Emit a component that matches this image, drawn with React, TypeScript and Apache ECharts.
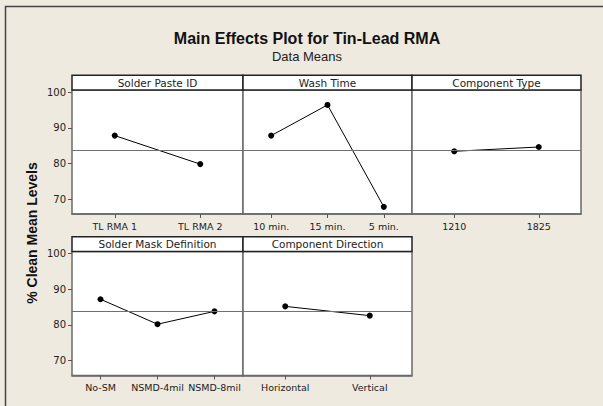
import React, { useEffect, useRef } from "react";
import * as echarts from "echarts";

const panelTitles = ["Solder Paste ID", "Wash Time", "Component Type", "Solder Mask Definition", "Component Direction"];
const solderPasteLevels = ["TL RMA 1", "TL RMA 2"];
const solderPasteMeans = [87.8, 79.8];
const washTimeLevels = ["10 min.", "15 min.", "5 min."];
const washTimeMeans = [87.8, 96.4, 67.8];
const componentTypeLevels = ["1210", "1825"];
const componentTypeMeans = [83.4, 84.6];
const solderMaskLevels = ["No-SM", "NSMD-4mil", "NSMD-8mil"];
const solderMaskMeans = [87.2, 80.2, 83.8];
const directionLevels = ["Horizontal", "Vertical"];
const directionMeans = [85.2, 82.6];
const grandMean = 83.8;
const yTicks = [70, 80, 90, 100];

const chartTitle = "Main Effects Plot for Tin-Lead RMA";
const chartSubtitle = "Data Means";
const yAxisTitle = "% Clean Mean Levels";

const BG = "#EEEAE0";
const FONT = "DejaVu Sans";

export default function App() {
  const ref = useRef<HTMLDivElement>(null);

  useEffect(() => {
    document.body.style.margin = "0";
    const chart = echarts.init(ref.current!, null, { renderer: "svg" });

    const panels = [
      { levels: solderPasteLevels, means: solderPasteMeans },
      { levels: washTimeLevels, means: washTimeMeans },
      { levels: componentTypeLevels, means: componentTypeMeans },
      { levels: solderMaskLevels, means: solderMaskMeans },
      { levels: directionLevels, means: directionMeans },
    ];
    const lefts = [72, 243, 412];
    const widths = [171, 169, 169];
    const tops = [90, 251.5];
    const H = 124;
    const HEAD = 14.7;

    const grids: any[] = [];
    const xAxes: any[] = [];
    const yAxes: any[] = [];
    const series: any[] = [];
    const graphics: any[] = [];

    panels.forEach((p, i) => {
      const col = i % 3;
      const row = Math.floor(i / 3);
      const left = lefts[col];
      const width = widths[col];
      const top = tops[row];
      grids.push({
        left,
        top,
        width,
        height: H,
        show: true,
        backgroundColor: "#FFFFFF",
        borderColor: "#6A6A6A",
        borderWidth: 1.5,
      });
      xAxes.push({
        type: "category",
        gridIndex: i,
        data: p.levels,
        boundaryGap: true,
        axisLine: { show: true, lineStyle: { color: "#6A6A6A", width: 1.5 } },
        axisTick: { show: true, alignWithLabel: true, interval: 0, length: 4, lineStyle: { color: "#555", width: 1 } },
        axisLabel: { color: "#222", fontFamily: FONT, fontSize: 9.5, margin: 7, interval: 0, hideOverlap: false },
        splitLine: { show: false },
      });
      const showY = col === 0;
      yAxes.push({
        type: "value",
        gridIndex: i,
        min: 65.8,
        max: 100.6,
        axisLine: { show: false },
        axisTick: { show: showY, inside: false, length: 4, customValues: yTicks, lineStyle: { color: "#555", width: 1 } },
        axisLabel: { show: showY, customValues: yTicks, color: "#222", fontFamily: FONT, fontSize: 10, margin: 6 },
        splitLine: { show: false },
      });
      series.push({
        type: "line",
        xAxisIndex: i,
        yAxisIndex: i,
        data: p.means,
        symbol: "circle",
        symbolSize: 6,
        itemStyle: { color: "#000" },
        lineStyle: { color: "#000", width: 1 },
        markLine: {
          silent: true,
          symbol: "none",
          label: { show: false },
          lineStyle: { color: "#707070", width: 1.2, type: "solid" },
          data: [{ yAxis: grandMean }],
        },
        z: 3,
      });
      graphics.push({
        type: "rect",
        shape: { x: left, y: top - HEAD, width, height: HEAD },
        style: { fill: "#FFFFFF", stroke: "#222", lineWidth: 1.5 },
        z: 10,
      });
      graphics.push({
        type: "text",
        x: left + width / 2,
        y: top - HEAD / 2,
        style: {
          text: panelTitles[i],
          fill: "#222",
          font: `10.5px "${FONT}"`,
          align: "center",
          verticalAlign: "middle",
        },
        z: 11,
      });
    });

    graphics.push({
      type: "polyline",
      shape: { points: [[5.5, 420], [5.5, 6.5], [620, 6.5]] },
      style: { stroke: "#444", lineWidth: 1.5, fill: null },
      z: 1,
    });
    graphics.push({
      type: "text",
      x: 307,
      y: 38,
      style: {
        text: chartTitle,
        fill: "#111",
        font: `bold 16px "Liberation Sans"`,
        align: "center",
        verticalAlign: "middle",
      },
    });
    graphics.push({
      type: "text",
      x: 307,
      y: 56,
      style: {
        text: chartSubtitle,
        fill: "#222",
        font: `13px "Liberation Sans"`,
        align: "center",
        verticalAlign: "middle",
      },
    });
    graphics.push({
      type: "text",
      x: 32,
      y: 233,
      rotation: Math.PI / 2,
      style: {
        text: yAxisTitle,
        fill: "#111",
        font: `bold 14px "Liberation Sans"`,
        align: "center",
        verticalAlign: "middle",
      },
    });

    chart.setOption({
      animation: false,
      backgroundColor: BG,
      grid: grids,
      xAxis: xAxes,
      yAxis: yAxes,
      series,
      graphic: graphics,
    });
    return () => chart.dispose();
  }, []);

  return <div ref={ref} style={{ width: 603, height: 406, position: "absolute", left: 0, top: 0 }} />;
}
